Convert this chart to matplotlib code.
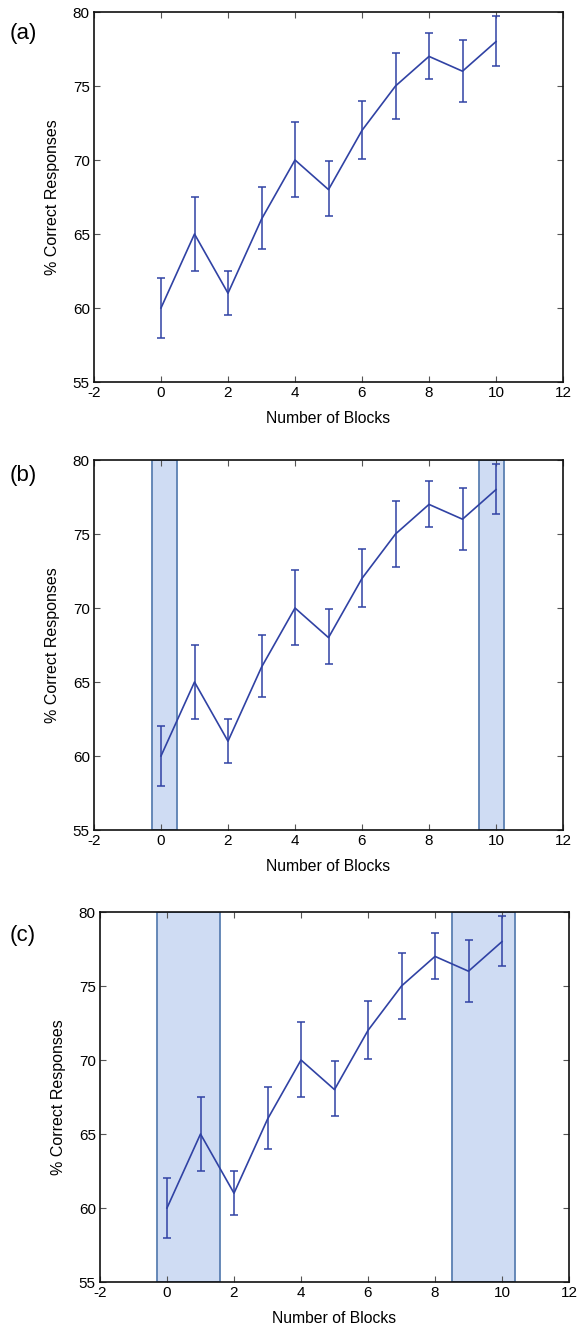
import matplotlib
matplotlib.use("Agg")
import matplotlib.pyplot as plt
import numpy as np

plt.rcParams['font.family'] = ['Liberation Sans', 'DejaVu Sans']
plt.rcParams['axes.unicode_minus'] = False

blocks = [0, 1, 2, 3, 4, 5, 6, 7, 8, 9, 10]
correct = [60, 65, 61, 66, 70, 68, 72, 75, 77, 76, 78]
err_low = [2.0, 2.5, 1.5, 2.0, 2.5, 1.8, 1.9, 2.2, 1.5, 2.1, 1.65]
err_high = [2.0, 2.5, 1.5, 2.2, 2.6, 1.9, 2.0, 2.2, 1.6, 2.1, 1.75]
xticks = [-2, 0, 2, 4, 6, 8, 10, 12]
yticks = [55, 60, 65, 70, 75, 80]
panel_labels = ['(a)', '(b)', '(c)']
bands_b = [(-0.28, 0.48), (9.49, 10.24)]
bands_c = [(-0.29, 1.58), (8.52, 10.38)]
bands = [[], bands_b, bands_c]

W, H = 581, 1331
fig = plt.figure(figsize=(W / 100, H / 100), dpi=100)

# (left px, top px, bottom px)
boxes = [(94, 12, 382), (94, 460, 830), (100, 912, 1282)]
label_pos = [(23, 33), (23, 475), (23, 935)]
line_color = '#3042a4'

for i, (l, t, b) in enumerate(boxes):
    ax = fig.add_axes([l / W, 1 - b / H, 469 / W, (b - t) / H])
    for (x0, x1) in bands[i]:
        ax.axvspan(x0, x1, facecolor='#cfdcf3', edgecolor='#5b80b2', linewidth=1.3, zorder=1)
    ax.errorbar(blocks, correct, yerr=[err_low, err_high], color=line_color,
                ecolor=line_color, elinewidth=1.1, linewidth=1.2, capsize=2.6,
                capthick=1.1, zorder=3)
    ax.set_xlim(-2, 12)
    ax.set_ylim(55, 80)
    ax.set_xticks(xticks)
    ax.set_yticks(yticks)
    ax.tick_params(direction='in', length=4, width=0.8, color='#555555',
                   labelsize=11, top=True, right=True, pad=3)
    for sp in ax.spines.values():
        sp.set_linewidth(1.2)
        sp.set_color('#111111')
    ax.set_xlabel('Number of Blocks', fontsize=11.3, labelpad=8)
    ax.set_ylabel('% Correct Responses', fontsize=11.5, labelpad=9)
    lx, ly = label_pos[i]
    fig.text(lx / W, 1 - ly / H, panel_labels[i], fontsize=16, ha='center', va='center')

fig.savefig('out.png', dpi=100)
